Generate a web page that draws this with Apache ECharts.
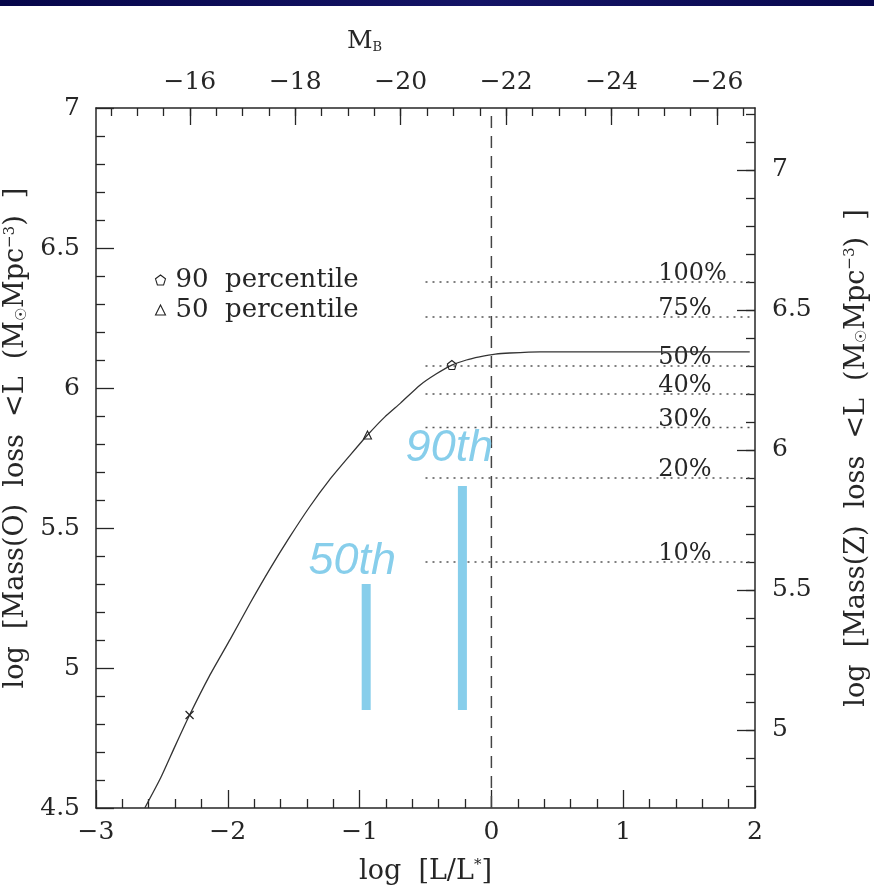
<!DOCTYPE html>
<html>
<head>
<meta charset="utf-8">
<script src="https://cdn.jsdelivr.net/npm/echarts@6/dist/echarts.min.js"></script>
<style>
  html, body { margin: 0; padding: 0; background: #fff; }
  #chart { width: 874px; height: 889px; }
</style>
</head>
<body>
<div id="chart"></div>
<script>
// Cumulative oxygen mass loss from galaxies fainter than L, as a function of log(L/L*)
const curveLogL = [-2.63, -2.51, -2.40, -2.29, -2.14, -1.98, -1.83, -1.68, -1.53, -1.38, -1.23, -1.07, -0.94,
                   -0.81, -0.69, -0.54, -0.42, -0.30, -0.19, -0.09, 0.03, 0.14, 0.37, 1.96];
const curveMass = [4.50, 4.607, 4.721, 4.832, 4.971, 5.104, 5.232, 5.354, 5.468, 5.575, 5.671, 5.761, 5.832,
                   5.896, 5.946, 6.011, 6.050, 6.082, 6.100, 6.111, 6.121, 6.125, 6.129, 6.129];

// Points marked on the curve
const crossPoint = [-2.29, 4.832];
const p50Point = [-0.94, 5.832];
const p90Point = [-0.30, 6.082];
const p50Name = '50  percentile';
const p90Name = '90  percentile';

// Vertical bars (log L/L*, base and top in log mass units)
const barNames = ['50th', '90th'];
const barLogL = [-0.95, -0.22];
const barBase = [4.85, 4.85];
const barTop = [5.30, 5.65];

// Fractions of the total metal loss, in Mass(Z) units (right axis)
const pctLabels = ['100%', '75%', '50%', '40%', '30%', '20%', '10%'];
const pctLevels = [6.60, 6.475, 6.30, 6.20, 6.08, 5.90, 5.60];

// Axis tick values
const leftTicks = [4.5, 5, 5.5, 6, 6.5, 7];
const rightTicks = [5, 5.5, 6, 6.5, 7];
const topTicks = [-16, -18, -20, -22, -24, -26];

// Scale relations between the axes
const MSTAR = -21.72;     // M_B of an L* galaxy
const Z_OFFSET = 0.2214;  // log Mass(Z) - log Mass(O)

const FONT = 'DejaVu Serif';
const INK = '#262626';
const BLUE = '#87CEEB';

const fmtNum = v => {
  const s = Math.abs(v - Math.round(v)) < 1e-9 ? String(Math.round(v)) : v.toFixed(1);
  return s.replace('-', '\u2212');
};

const range = (a, b, step) => {
  const out = [];
  const n = Math.round((b - a) / step);
  for (let i = 0; i <= n; i++) out.push(+(a + i * step).toFixed(4));
  return out;
};

const chart = echarts.init(document.getElementById('chart'), null, { renderer: 'canvas' });

const axisLine = { show: true, onZero: false, lineStyle: { color: INK, width: 1.5 } };
const tickLine = { color: INK, width: 1.3 };
const labelStyle = { fontFamily: FONT, fontSize: 25, color: INK };
const nameRich = {
  sub: { fontFamily: FONT, fontSize: 15, color: INK, verticalAlign: 'bottom', lineHeight: 15 },
  sup: { fontFamily: FONT, fontSize: 15, color: INK, verticalAlign: 'top', lineHeight: 15 }
};
const nameStyle = { fontFamily: FONT, fontSize: 27, color: INK, rich: nameRich };

const series = [];

// dashed line at L = L*
series.push({
  type: 'line', xAxisIndex: 0, yAxisIndex: 0,
  data: [[0, 4.5], [0, 7]],
  showSymbol: false, silent: true,
  lineStyle: { color: '#444', width: 1.5, type: [12, 8] },
  z: 2
});

// dotted fraction levels and their labels
pctLevels.forEach(lvl => {
  series.push({
    type: 'line', xAxisIndex: 0, yAxisIndex: 1,
    data: [[-0.5, lvl], [2, lvl]],
    showSymbol: false, silent: true,
    lineStyle: { color: '#555', width: 1.5, type: [2, 5] },
    z: 2
  });
});
series.push({
  type: 'scatter', xAxisIndex: 0, yAxisIndex: 1,
  symbolSize: 0, silent: true,
  itemStyle: { opacity: 1 },
  data: pctLevels.map((lvl, i) => ({ value: [1.265, lvl], name: pctLabels[i] })),
  label: {
    show: true, position: [0, 4], align: 'left', verticalAlign: 'bottom',
    formatter: p => p.name,
    fontFamily: FONT, fontSize: 24, color: INK
  },
  z: 3
});

// the mass-loss curve
series.push({
  type: 'line', xAxisIndex: 0, yAxisIndex: 0,
  data: curveLogL.map((x, i) => [x, curveMass[i]]),
  smooth: 0.2,
  showSymbol: false, silent: true,
  lineStyle: { color: '#333', width: 1.3 },
  z: 4
});

// markers on the curve
series.push({
  type: 'scatter', xAxisIndex: 0, yAxisIndex: 0,
  data: [crossPoint],
  symbol: 'path://M0,0L10,10M10,0L0,10', symbolSize: 8,
  itemStyle: { color: 'none', borderColor: '#222', borderWidth: 1.2, opacity: 1 },
  z: 5
});
series.push({
  name: p50Name, type: 'scatter', xAxisIndex: 0, yAxisIndex: 0,
  data: [p50Point],
  symbol: 'triangle', symbolSize: 8,
  itemStyle: { color: 'none', borderColor: '#222', borderWidth: 1.1, opacity: 1 },
  z: 5
});
series.push({
  name: p90Name, type: 'scatter', xAxisIndex: 0, yAxisIndex: 0,
  data: [p90Point],
  symbol: 'path://M5,0L10,3.8L8.1,10L1.9,10L0,3.8Z', symbolSize: 9,
  itemStyle: { color: 'none', borderColor: '#222', borderWidth: 1.1, opacity: 1 },
  z: 5
});

// blue percentile bars with their italic captions
const captionOffsets = [[-14, 0], [-13, -15]];
barNames.forEach((nm, i) => {
  series.push({
    type: 'line', xAxisIndex: 0, yAxisIndex: 0,
    data: [[barLogL[i], barBase[i]], [barLogL[i], barTop[i]]],
    showSymbol: false, silent: true,
    lineStyle: { color: BLUE, width: 9, cap: 'butt' },
    z: 6
  });
  series.push({
    type: 'scatter', xAxisIndex: 0, yAxisIndex: 0,
    data: [{ value: [barLogL[i], barTop[i]], name: nm }],
    symbolSize: 0, silent: true,
    itemStyle: { opacity: 1 },
    label: {
      show: true, position: captionOffsets[i], align: 'center', verticalAlign: 'bottom',
      formatter: p => p.name,
      fontFamily: 'Liberation Sans', fontStyle: 'italic', fontSize: 45, color: BLUE
    },
    z: 7
  });
});

const option = {
  animation: false,
  backgroundColor: '#fff',
  grid: { left: 96, right: 119, top: 108, bottom: 81, containLabel: false, outerBoundsMode: 'none' },
  title: {
    text: 'M{s|B}',
    left: 342, top: 24,
    textStyle: {
      fontFamily: FONT, fontSize: 25, fontWeight: 'normal', color: INK,
      rich: { s: { fontFamily: FONT, fontSize: 13, color: INK, verticalAlign: 'bottom', lineHeight: 13 } }
    }
  },
  legend: {
    orient: 'vertical', left: 148, top: 262,
    itemWidth: 10, itemHeight: 10, itemGap: 4,
    selectedMode: false,
    data: [
      { name: p90Name, icon: 'path://M5,0L10,3.8L8.1,10L1.9,10L0,3.8Z' },
      { name: p50Name, icon: 'triangle' }
    ],
    itemStyle: { color: 'none', borderColor: '#222', borderWidth: 1.1 },
    textStyle: { fontFamily: FONT, fontSize: 26, color: INK, padding: [0, 0, 0, 5] }
  },
  graphic: [{
    type: 'rect', left: 0, top: 0, silent: true,
    shape: { width: 874, height: 6 },
    style: {
      fill: new echarts.graphic.LinearGradient(0, 0, 1, 0, [
        { offset: 0, color: '#06064a' },
        { offset: 0.55, color: '#141466' },
        { offset: 1, color: '#08084e' }
      ])
    }
  }],
  xAxis: [
    {
      type: 'value', position: 'bottom', min: -3, max: 2, interval: 1,
      name: 'log  [L/L{sup|*}]', nameLocation: 'middle', nameGap: 50,
      nameTextStyle: nameStyle,
      axisLine, splitLine: { show: false },
      axisTick: { show: true, inside: true, length: 18, lineStyle: tickLine },
      minorTick: { show: true, splitNumber: 5, length: 9, lineStyle: tickLine },
      axisLabel: Object.assign({ margin: 12, formatter: fmtNum }, labelStyle)
    },
    {
      type: 'value', position: 'top', inverse: true,
      min: MSTAR - 2.5 * 2, max: MSTAR + 2.5 * 3,
      axisLine, splitLine: { show: false },
      axisTick: { show: true, inside: true, length: 17, customValues: topTicks, lineStyle: tickLine },
      axisLabel: Object.assign({ margin: 13, customValues: topTicks, formatter: fmtNum }, labelStyle)
    },
    {
      type: 'value', position: 'top', inverse: true,
      min: MSTAR - 2.5 * 2, max: MSTAR + 2.5 * 3,
      axisLine: { show: false, onZero: false }, splitLine: { show: false },
      axisTick: { show: true, inside: true, length: 8, customValues: range(-26.5, -14.5, 0.5), lineStyle: tickLine },
      axisLabel: { show: false }
    }
  ],
  yAxis: [
    {
      type: 'value', position: 'left', min: 4.5, max: 7, interval: 0.5,
      name: 'log  [Mass(O)  loss  <L  (M{sub|\u2609}Mpc{sup|\u22123})  ]',
      nameLocation: 'middle', nameGap: 64, nameRotate: 90,
      nameTextStyle: Object.assign({ padding: [0, 0, 0, 40] }, nameStyle),
      axisLine, splitLine: { show: false },
      axisTick: { show: true, inside: true, length: 18, lineStyle: tickLine },
      minorTick: { show: true, splitNumber: 5, length: 9, lineStyle: tickLine },
      axisLabel: Object.assign({ margin: 16, formatter: fmtNum }, labelStyle)
    },
    {
      type: 'value', position: 'right', min: 4.5 + Z_OFFSET, max: 7 + Z_OFFSET,
      name: 'log  [Mass(Z)  loss  <L  (M{sub|\u2609}Mpc{sup|\u22123})  ]',
      nameLocation: 'middle', nameGap: 88, nameRotate: 90,
      nameTextStyle: nameStyle,
      axisLine, splitLine: { show: false },
      axisTick: { show: true, inside: true, length: 18, customValues: rightTicks, lineStyle: tickLine },
      axisLabel: Object.assign({ margin: 17, customValues: rightTicks, formatter: fmtNum }, labelStyle)
    },
    {
      type: 'value', position: 'right', min: 4.5 + Z_OFFSET, max: 7 + Z_OFFSET,
      axisLine: { show: false, onZero: false }, splitLine: { show: false },
      axisTick: { show: true, inside: true, length: 9, customValues: range(4.8, 7.2, 0.1), lineStyle: tickLine },
      axisLabel: { show: false }
    }
  ],
  series
};

chart.setOption(option);
</script>
</body>
</html>
